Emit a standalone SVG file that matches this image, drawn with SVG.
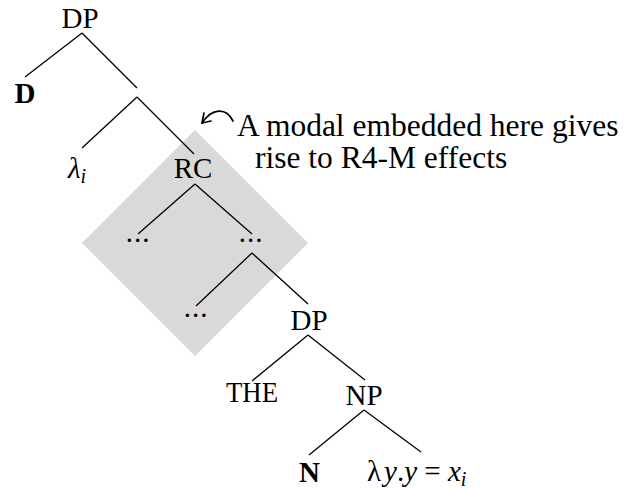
<svg xmlns="http://www.w3.org/2000/svg" width="625" height="489" viewBox="0 0 625 489">
  <style>
    .lbl { font-family: "Liberation Serif", "Times New Roman", serif; font-size: 29px; fill: #000; text-anchor: middle; }
    .bold { font-weight: bold; }
    .it { font-style: italic; }
    .note { font-family: "Liberation Serif", "Times New Roman", serif; font-size: 31.5px; fill: #000; }
    .edge { stroke: #000; stroke-width: 1.3; fill: none; }
    .pointer { stroke: #000; stroke-width: 1.7; fill: none; stroke-linecap: round; stroke-linejoin: round; }
  </style>

  <!-- shaded region around the relative clause -->
  <polygon id="rc-region" points="195,130 308,243 195,356 82,243" fill="#d9d9d9"/>

  <g id="connectors">
    <path class="edge" d="M82,33 L25,77 M82,33 L137,88"/>
    <path class="edge" d="M137,97 L82,148 M137,97 L194,154"/>
    <path class="edge" d="M195,184 L138,234 M195,184 L252,234"/>
    <path class="edge" d="M252,253 L196,306 M252,253 L308,304"/>
    <path class="edge" d="M308,335 L252,381 M308,335 L365,380"/>
    <path class="edge" d="M364,410 L309,455 M364,410 L421,452"/>
  </g>

  <g id="dp-top"><text class="lbl" x="80" y="28">DP</text></g>
  <g id="d"><text class="lbl bold" x="25" y="103">D</text></g>
  <g id="lambda-i"><text class="lbl it" x="68" y="178" style="text-anchor:start">λ<tspan font-size="20" dy="5">i</tspan></text></g>
  <g id="rc"><text class="lbl" x="193" y="178">RC</text></g>
  <g id="dots-left"><text class="lbl" x="138" y="242" letter-spacing="1">...</text></g>
  <g id="dots-right"><text class="lbl" x="251" y="242" letter-spacing="1">...</text></g>
  <g id="dots-lower"><text class="lbl" x="196" y="317" letter-spacing="1">...</text></g>
  <g id="dp-inner"><text class="lbl" x="309" y="330">DP</text></g>
  <g id="the"><text class="lbl" x="252" y="402" font-size="23" textLength="52" lengthAdjust="spacingAndGlyphs">THE</text></g>
  <g id="np"><text class="lbl" x="364" y="405">NP</text></g>
  <g id="n"><text class="lbl bold" x="309.5" y="482">N</text></g>
  <g id="pred"><text class="lbl" x="367" y="481" style="text-anchor:start">λ<tspan class="it" dx="3">y</tspan>.<tspan class="it">y</tspan> = <tspan class="it">x</tspan><tspan class="it" font-size="20" dy="5">i</tspan></text></g>

  <g id="annotation">
    <path class="pointer" d="M233,121 C226,107 212,108 202,123"/>
    <path class="pointer" d="M204,113 L202,123 L211,121"/>
    <text class="note" x="237" y="136">A modal embedded here gives</text>
    <text class="note" x="255" y="168">rise to R4-M effects</text>
  </g>
</svg>
